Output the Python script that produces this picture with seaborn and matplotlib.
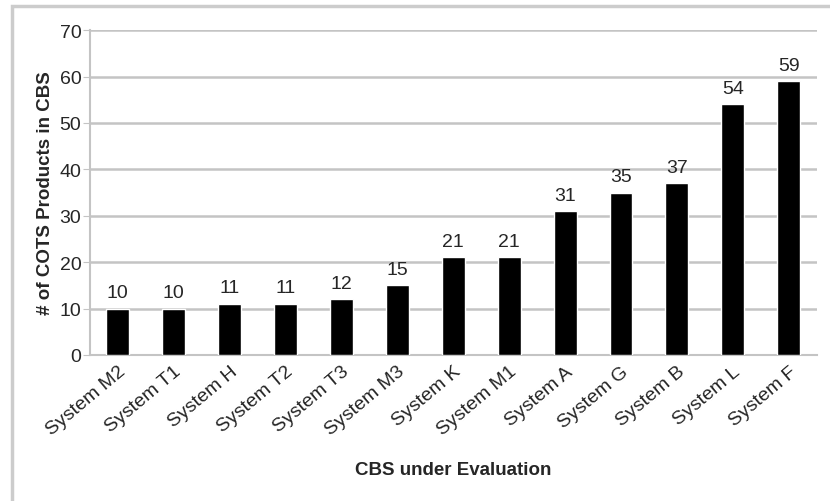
import matplotlib
matplotlib.use("Agg")
import matplotlib.pyplot as plt
import seaborn as sns
import pandas as pd
from matplotlib.patches import Rectangle

systems = ['System M2', 'System T1', 'System H', 'System T2', 'System T3', 'System M3',
           'System K', 'System M1', 'System A', 'System G', 'System B', 'System L', 'System F']
cots_counts = [10, 10, 11, 11, 12, 15, 21, 21, 31, 35, 37, 54, 59]

df = pd.DataFrame({'System': systems, 'Count': cots_counts})

sns.set_style('white')
plt.rcParams['font.family'] = ['Liberation Sans', 'DejaVu Sans']

fig = plt.figure(figsize=(8.3, 5.02), dpi=100)
ax = fig.add_axes([0.108, 0.291, 0.876, 0.647])

# light frame around the chart
fig.patches.append(Rectangle((12 / 830, -0.05), 1.0, 1 - 7 / 502 + 0.05,
                             transform=fig.transFigure, fill=False,
                             edgecolor='#cccccc', linewidth=2.5))

sns.barplot(data=df, x='System', y='Count', color='black', width=0.41,
            saturation=1, ax=ax, zorder=3)

for i, v in enumerate(cots_counts):
    ax.text(i, v + 1.6, str(v), ha='center', va='bottom', fontsize=14)

ax.set_ylim(0, 70)
ax.set_yticks(range(0, 71, 10))
ax.set_xlim(-0.5, len(systems) - 0.5)
ax.yaxis.grid(True, color='#c4c4c4', linewidth=1.8, zorder=0)
ax.set_axisbelow(True)

for s in ['top', 'right']:
    ax.spines[s].set_visible(False)
for s in ['left', 'bottom']:
    ax.spines[s].set_color('#c4c4c4')
    ax.spines[s].set_linewidth(1.5)

ax.tick_params(axis='y', which='both', left=True, length=5, color='#c4c4c4',
               labelsize=14, pad=1)
ax.tick_params(axis='x', bottom=False, labelsize=14, pad=2)
plt.setp(ax.get_xticklabels(), rotation=40, ha='right', rotation_mode='anchor')

ax.set_xlabel('CBS under Evaluation', fontsize=13.5, fontweight='bold', labelpad=16)
ax.set_ylabel('# of COTS Products in CBS', fontsize=13.5, fontweight='bold', labelpad=4)

fig.savefig('out.png', dpi=100)
